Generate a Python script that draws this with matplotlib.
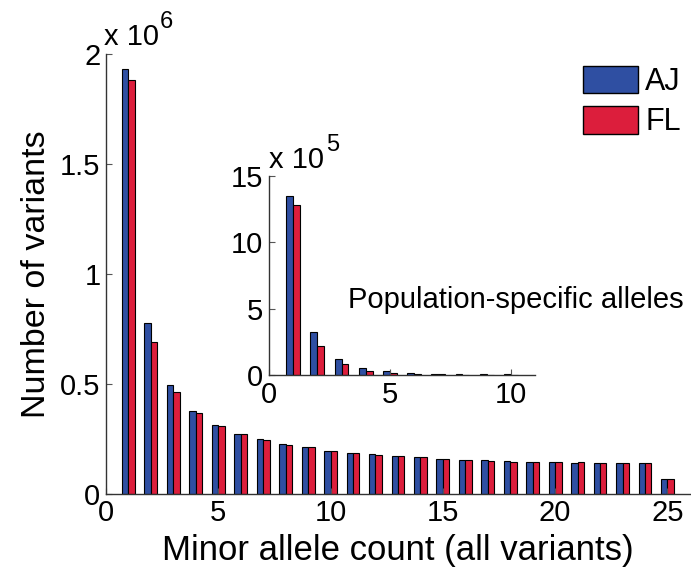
import numpy as np
import matplotlib
matplotlib.use('Agg')
import matplotlib.pyplot as plt
from matplotlib.patches import Patch

plt.rcParams['font.family'] = ['Liberation Sans', 'DejaVu Sans']
plt.rcParams['mathtext.default'] = 'regular'

# minor allele counts, all variants (x 1e6)
counts = np.arange(1, 26)
aj_all = [1.930, 0.777, 0.494, 0.377, 0.314, 0.273, 0.250, 0.229, 0.214, 0.197,
          0.186, 0.182, 0.173, 0.168, 0.161, 0.156, 0.156, 0.151, 0.145, 0.145,
          0.141, 0.141, 0.141, 0.141, 0.068]
fl_all = [1.880, 0.690, 0.465, 0.367, 0.310, 0.273, 0.244, 0.224, 0.214, 0.197,
          0.186, 0.177, 0.173, 0.166, 0.159, 0.156, 0.150, 0.144, 0.145, 0.145,
          0.145, 0.141, 0.141, 0.141, 0.068]

# population-specific alleles (x 1e5)
counts_ps = np.arange(1, 11)
aj_ps = [13.49, 3.21, 1.18, 0.50, 0.28, 0.17, 0.08, 0.06, 0.05, 0.05]
fl_ps = [12.81, 2.18, 0.83, 0.33, 0.15, 0.06, 0.04, 0.03, 0.02, 0.02]

blue = '#2f4fa2'
red = '#dc1e3c'
w = 0.286
fs = 21


def style(ax):
    for s in ['top', 'right']:
        ax.spines[s].set_visible(False)
    for s in ['left', 'bottom']:
        ax.spines[s].set_color('#333333')
        ax.spines[s].set_linewidth(1.0)
    ax.tick_params(direction='in', length=4, width=0.8, color='#555555',
                   labelsize=fs, pad=4)


def exponent(x, y, power):
    # "x 10" followed by a raised exponent, like the axis multiplier label
    t = fig.text(x, y, 'x 10', fontsize=fs, ha='left', va='baseline')
    fig.canvas.draw()
    bb = t.get_window_extent().transformed(fig.transFigure.inverted())
    fig.text(bb.x1 + 0.002, y + 0.03, power, fontsize=17, ha='left',
             va='baseline')


fig = plt.figure(figsize=(6.91, 5.73), dpi=100)

ax = fig.add_axes([0.1534, 0.138, 0.845, 0.768])
ax.bar(counts - w / 2, np.array(aj_all) * 1e6, width=w, color=blue,
       edgecolor='black', linewidth=0.8)
ax.bar(counts + w / 2, np.array(fl_all) * 1e6, width=w, color=red,
       edgecolor='black', linewidth=0.8)
ax.set_xlim(0, 26)
ax.set_ylim(0, 2e6)
ax.set_xticks([0, 5, 10, 15, 20, 25])
ax.set_yticks([0, 0.5e6, 1e6, 1.5e6, 2e6])
ax.set_yticklabels(['0', '0.5', '1', '1.5', '2'])
style(ax)
ax.set_xlabel('Minor allele count (all variants)', fontsize=25, labelpad=5)
ax.set_ylabel('Number of variants', fontsize=24.5, labelpad=6)
exponent(0.150, 0.922, '6')

handles = [Patch(facecolor=blue, edgecolor='black', label='AJ'),
           Patch(facecolor=red, edgecolor='black', label='FL')]
fig.legend(handles=handles, loc='upper left', bbox_to_anchor=(0.843, 0.885),
           frameon=False, fontsize=22, handlelength=1.8, handleheight=1.0,
           handletextpad=0.25, labelspacing=0.3, borderpad=0, borderaxespad=0)

ins = fig.add_axes([0.3893, 0.3455, 0.385, 0.3473])
ins.bar(counts_ps - w / 2, np.array(aj_ps) * 1e5, width=w, color=blue,
        edgecolor='black', linewidth=0.8)
ins.bar(counts_ps + w / 2, np.array(fl_ps) * 1e5, width=w, color=red,
        edgecolor='black', linewidth=0.8)
ins.set_xlim(0, 11)
ins.set_ylim(0, 15e5)
ins.set_xticks([0, 5, 10])
ins.set_yticks([0, 5e5, 10e5, 15e5])
ins.set_yticklabels(['0', '5', '10', '15'])
style(ins)
ins.patch.set_alpha(0)
exponent(0.390, 0.707, '5')
fig.text(0.503, 0.477, 'Population-specific alleles', fontsize=21,
         ha='left', va='center')

fig.savefig('out.png', dpi=100)
